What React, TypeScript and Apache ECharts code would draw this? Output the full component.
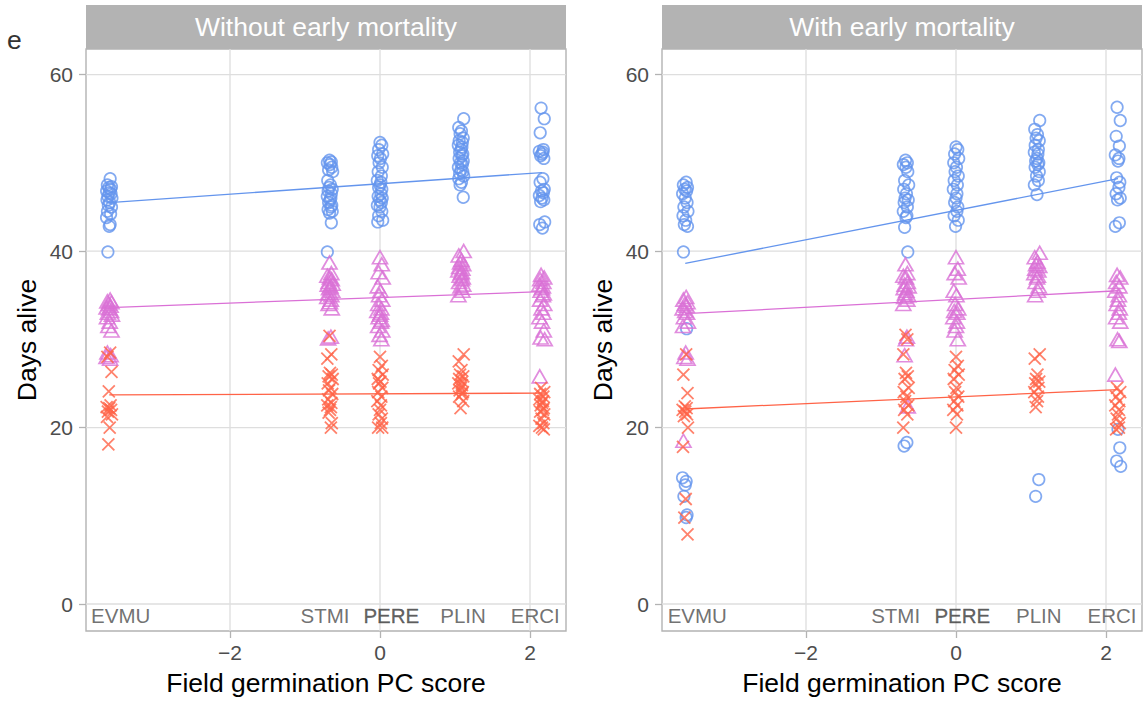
import React, { useEffect, useRef } from 'react';
import * as echarts from 'echarts';

const FONT = '"Liberation Sans", Arial, Helvetica, sans-serif';

// Species and their field germination PC scores
const species = ['EVMU', 'STMI', 'PERE', 'PLIN', 'ERCI'];
const speciesPC = [-3.61, -0.667, 0, 1.08, 2.16];

// small horizontal jitter offsets (PC score units)
const jitter = [0.012, -0.025, 0.03, -0.006, 0.018, -0.035, 0.0, 0.024, -0.018, 0.036, -0.03, 0.006, -0.012, 0.03, -0.024, 0.018, -0.036, 0.012, 0.0, -0.018, 0.024];

// Panel titles
const panels = ['Without early mortality', 'With early mortality'];

// Axis ticks
const xTicks = [-2, 0, 2];
const yTicks = [0, 20, 40, 60];
const X_MIN = -3.92;
const X_MAX = 2.48;
const Y_MIN = -3.06;
const Y_MAX = 62.9;

// ---- Without early mortality (left) ----
const blueLeft = [
  [48.2, 47.5, 47.3, 47.2, 47.0, 46.8, 46.6, 46.5, 46.2, 46.0, 45.8, 45.5, 45.2, 45.0, 44.5, 44.2, 43.8, 43.0, 42.8, 39.9],
  [50.3, 50.1, 50.0, 49.8, 49.5, 49.2, 49.0, 48.0, 47.5, 47.2, 47.0, 46.8, 46.5, 46.2, 46.0, 45.8, 45.5, 45.2, 45.0, 44.7, 44.5, 44.3, 43.2, 39.9],
  [52.3, 52.0, 51.5, 51.0, 50.8, 50.5, 50.0, 49.5, 49.0, 48.5, 48.0, 47.8, 47.5, 47.2, 47.0, 46.5, 46.2, 46.0, 45.8, 45.5, 45.2, 45.0, 44.5, 44.0, 43.5, 43.3],
  [55.0, 54.0, 53.6, 53.3, 52.8, 52.5, 52.3, 52.0, 51.8, 51.5, 51.2, 51.0, 50.8, 50.5, 50.2, 50.0, 49.8, 49.5, 49.2, 49.0, 48.8, 48.5, 48.2, 47.8, 47.5, 46.1],
  [56.2, 55.0, 53.4, 51.5, 51.3, 51.2, 51.0, 50.8, 50.5, 48.2, 47.8, 47.0, 46.8, 46.6, 46.3, 46.0, 45.8, 45.6, 43.3, 43.0, 42.6],
];
const pinkLeft = [
  [34.5, 34.3, 34.2, 34.0, 33.8, 33.6, 33.5, 33.2, 33.0, 32.8, 32.5, 32.0, 31.5, 31.0, 28.5, 28.2, 28.0, 27.8],
  [38.7, 37.5, 37.2, 37.0, 36.8, 36.5, 36.3, 36.2, 36.0, 35.8, 35.5, 35.2, 35.0, 34.8, 34.5, 34.2, 34.0, 33.5, 30.3, 30.1],
  [39.3, 38.5, 37.6, 37.0, 36.0, 35.5, 35.0, 34.5, 34.0, 33.5, 33.2, 33.0, 32.8, 32.5, 32.2, 32.0, 31.5, 31.0, 30.5, 30.0],
  [40.0, 39.5, 39.0, 38.7, 38.5, 38.2, 38.0, 37.8, 37.6, 37.5, 37.2, 37.0, 36.8, 36.5, 36.2, 36.0, 35.5, 35.0],
  [37.3, 37.0, 36.8, 36.5, 36.2, 36.0, 35.8, 35.5, 35.2, 35.0, 34.5, 34.0, 33.5, 33.0, 32.5, 32.0, 31.0, 30.2, 30.0, 25.8],
];
const redLeft = [
  [28.5, 28.0, 26.3, 24.1, 22.5, 22.3, 22.2, 22.0, 21.8, 21.5, 21.2, 20.0, 18.1],
  [30.4, 28.3, 27.8, 26.2, 26.0, 25.8, 25.5, 25.0, 24.5, 24.2, 23.8, 23.2, 22.8, 22.5, 22.3, 22.0, 21.7, 20.5, 20.0],
  [28.0, 27.0, 26.5, 26.0, 25.5, 25.2, 25.0, 24.5, 24.0, 23.5, 23.0, 22.5, 22.0, 21.5, 21.0, 20.5, 20.0, 20.0],
  [28.3, 27.5, 26.5, 26.0, 25.8, 25.5, 25.2, 25.0, 24.8, 24.5, 24.2, 24.0, 23.8, 23.5, 23.0, 22.2],
  [24.5, 24.0, 23.8, 23.5, 23.2, 23.0, 22.8, 22.5, 22.2, 22.0, 21.8, 21.5, 21.0, 20.5, 20.2, 20.0, 19.8],
];
// fitted lines: [x, y] at the two ends
const blueLineLeft = [[-3.61, 45.5], [2.16, 48.9]];
const pinkLineLeft = [[-3.61, 33.6], [2.16, 35.4]];
const redLineLeft = [[-3.61, 23.7], [2.16, 23.9]];
const labelXLeft = [-3.457, -0.733, 0.151, 1.107, 2.07];

// ---- With early mortality (right) ----
const blueRight = [
  [47.8, 47.5, 47.2, 47.0, 46.8, 46.5, 46.0, 45.5, 45.0, 44.5, 44.0, 43.5, 43.0, 42.8, 39.9, 31.2, 14.3, 13.9, 13.5, 12.2, 10.1, 9.8],
  [50.3, 50.0, 49.8, 49.5, 49.0, 48.0, 47.5, 47.0, 46.5, 46.0, 45.8, 45.5, 45.0, 44.5, 44.0, 43.8, 42.7, 39.9, 18.3, 17.9],
  [51.8, 51.5, 51.0, 50.5, 50.0, 49.5, 49.0, 48.5, 48.0, 47.5, 47.0, 46.5, 46.0, 45.5, 45.0, 44.5, 44.0, 43.5, 42.8],
  [54.8, 53.8, 53.2, 52.8, 52.5, 52.0, 51.5, 51.2, 51.0, 50.5, 50.2, 50.0, 49.8, 49.5, 49.0, 48.5, 48.0, 47.5, 46.4, 14.1, 12.2],
  [56.3, 54.8, 53.0, 51.9, 50.9, 50.5, 50.2, 48.3, 47.8, 47.2, 46.5, 46.0, 45.8, 43.2, 42.8, 19.8, 17.7, 16.2, 15.6],
];
const pinkRight = [
  [34.8, 34.5, 34.2, 34.0, 33.8, 33.5, 33.2, 33.0, 32.5, 32.0, 31.5, 28.5, 28.0, 27.8, 18.5],
  [38.5, 37.5, 37.2, 37.0, 36.5, 36.2, 36.0, 35.8, 35.5, 35.2, 35.0, 34.8, 34.5, 34.0, 30.3, 30.0, 28.2, 22.4],
  [39.3, 38.0, 37.5, 37.0, 35.5, 35.0, 34.0, 33.5, 33.2, 33.0, 32.5, 32.0, 31.5, 31.0, 30.0],
  [39.8, 39.3, 38.8, 38.5, 38.3, 38.0, 37.8, 37.5, 37.2, 37.0, 36.5, 36.0, 35.5, 35.0],
  [37.3, 37.0, 36.5, 36.0, 35.5, 35.0, 34.5, 34.0, 33.5, 33.0, 32.5, 32.0, 30.0, 29.8, 26.0],
];
const redRight = [
  [28.3, 26.0, 23.9, 22.4, 22.2, 22.0, 21.8, 21.5, 21.3, 20.0, 17.8, 11.9, 9.8, 7.9],
  [30.5, 30.0, 28.3, 26.2, 25.8, 25.5, 24.5, 24.0, 23.5, 23.0, 22.5, 22.0, 21.5, 20.0],
  [28.0, 27.0, 26.5, 26.0, 25.5, 24.5, 24.0, 23.5, 23.0, 22.5, 22.0, 21.5, 20.0],
  [28.3, 27.8, 26.0, 25.5, 25.2, 25.0, 24.5, 24.0, 23.5, 23.0, 22.3],
  [24.5, 24.0, 23.5, 23.0, 22.5, 22.0, 21.5, 21.0, 20.5, 20.0, 19.8],
];
const blueLineRight = [[-3.61, 38.6], [2.16, 48.2]];
const pinkLineRight = [[-3.61, 32.9], [2.16, 35.5]];
const redLineRight = [[-3.61, 22.1], [2.16, 24.3]];
const labelXRight = [-3.45, -0.805, 0.084, 1.104, 2.08];
const labelY = -1.28;

const BLUE = '#6495ED';
const PINK = '#DA70D6';
const RED = '#FF6347';
const CROSS = 'path://M0,0L10,10M10,0L0,10';

const GRID_LEFTS = [86, 662];
const GRID_TOP = 49;
const GRID_W = 480;
const GRID_H = 582;

function points(groups: number[][]) {
  const out: number[][] = [];
  groups.forEach((ys, si) => {
    ys.forEach((y, i) => {
      out.push([speciesPC[si] + jitter[(i + si * 3) % jitter.length], y]);
    });
  });
  return out;
}

function fmt(v: number) {
  return v < 0 ? '\u2212' + Math.abs(v) : String(v);
}

function buildOption() {
  const panelData = [
    { blue: blueLeft, pink: pinkLeft, red: redLeft, bl: blueLineLeft, pl: pinkLineLeft, rl: redLineLeft, lx: labelXLeft },
    { blue: blueRight, pink: pinkRight, red: redRight, bl: blueLineRight, pl: pinkLineRight, rl: redLineRight, lx: labelXRight },
  ];

  const grids: any[] = [];
  const xAxes: any[] = [];
  const yAxes: any[] = [];
  const series: any[] = [];
  const graphics: any[] = [];

  panelData.forEach((pd, p) => {
    grids.push({
      left: GRID_LEFTS[p], top: GRID_TOP, width: GRID_W, height: GRID_H,
      show: true, borderColor: '#b3b3b3', borderWidth: 1.4, backgroundColor: 'rgba(0,0,0,0)',
    });
    xAxes.push({
      gridIndex: p, type: 'value', min: X_MIN, max: X_MAX,
      splitLine: { show: false },
      axisLine: { show: false, onZero: false },
      axisTick: { show: true, customValues: xTicks, length: 7, lineStyle: { color: '#b3b3b3', width: 1.3 } },
      axisLabel: { customValues: xTicks, formatter: fmt, fontSize: 21, color: '#4d4d4d', margin: 11, fontFamily: FONT },
      name: 'Field germination PC score', nameLocation: 'middle', nameGap: 38,
      nameTextStyle: { fontSize: 26.5, color: '#000', fontFamily: FONT },
    });
    yAxes.push({
      gridIndex: p, type: 'value', min: Y_MIN, max: Y_MAX,
      splitLine: { show: false },
      axisLine: { show: false, onZero: false },
      axisTick: { show: true, customValues: yTicks, length: 7, lineStyle: { color: '#b3b3b3', width: 1.3 } },
      axisLabel: { customValues: yTicks, fontSize: 21, color: '#4d4d4d', margin: 13, fontFamily: FONT },
      name: 'Days alive', nameLocation: 'middle', nameGap: 46,
      nameTextStyle: { fontSize: 26.5, color: '#000', fontFamily: FONT },
    });

    // gridlines
    xTicks.forEach((v) => {
      series.push({
        type: 'line', xAxisIndex: p, yAxisIndex: p, data: [[v, Y_MIN], [v, Y_MAX]],
        symbol: 'none', silent: true, z: 1, lineStyle: { color: '#dedede', width: 1.3 },
      });
    });
    yTicks.forEach((v) => {
      series.push({
        type: 'line', xAxisIndex: p, yAxisIndex: p, data: [[X_MIN, v], [X_MAX, v]],
        symbol: 'none', silent: true, z: 1, lineStyle: { color: '#dedede', width: 1.3 },
      });
    });

    const common = { type: 'scatter', xAxisIndex: p, yAxisIndex: p, silent: true, z: 3 };
    series.push({
      ...common, data: points(pd.blue), symbol: 'circle', symbolSize: 11.5,
      itemStyle: { color: 'rgba(0,0,0,0)', borderColor: BLUE, borderWidth: 1.7 },
    });
    series.push({
      ...common, data: points(pd.pink), symbol: 'triangle', symbolSize: [15, 13],
      itemStyle: { color: 'rgba(0,0,0,0)', borderColor: PINK, borderWidth: 1.7 },
    });
    series.push({
      ...common, data: points(pd.red), symbol: CROSS, symbolSize: 12,
      itemStyle: { color: 'rgba(0,0,0,0)', borderColor: RED, borderWidth: 1.8 },
    });

    [[pd.bl, BLUE], [pd.pl, PINK], [pd.rl, RED]].forEach(([d, c]: any) => {
      series.push({
        type: 'line', xAxisIndex: p, yAxisIndex: p, data: d, symbol: 'none', silent: true, z: 4,
        lineStyle: { color: c, width: 1.3 },
      });
    });

    series.push({
      type: 'scatter', xAxisIndex: p, yAxisIndex: p, silent: true, z: 5, symbolSize: 0,
      data: species.map((s, i) => ({
        value: [pd.lx[i], labelY], name: s,
        label: s === 'PERE' ? { color: '#3a3a3a', textBorderColor: '#3a3a3a', textBorderWidth: 0.3 } : undefined,
      })),
      label: { show: true, position: 'inside', formatter: '{b}', fontSize: 20.5, color: '#4d4d4d', fontFamily: FONT },
    });

    graphics.push({
      type: 'rect', shape: { x: GRID_LEFTS[p], y: 5, width: GRID_W, height: 44 },
      style: { fill: '#b3b3b3' }, silent: true,
    });
    graphics.push({
      type: 'text', x: GRID_LEFTS[p] + GRID_W / 2, y: 27,
      style: { text: panels[p], fill: '#fff', fontSize: 26.5, fontFamily: FONT, textAlign: 'center', textVerticalAlign: 'middle' },
      silent: true,
    });
  });

  graphics.push({
    type: 'text', x: 7, y: 40,
    style: { text: 'e', fill: '#333', fontSize: 26.5, fontFamily: FONT, textAlign: 'left', textVerticalAlign: 'middle' },
    silent: true,
  });

  return {
    animation: false,
    backgroundColor: '#fff',
    grid: grids,
    xAxis: xAxes,
    yAxis: yAxes,
    series,
    graphic: graphics,
  };
}

export default function App() {
  const ref = useRef<HTMLDivElement>(null);
  useEffect(() => {
    document.body.style.margin = '0';
    const chart = echarts.init(ref.current as HTMLDivElement, null, { renderer: 'svg' });
    chart.setOption(buildOption() as any);
    return () => chart.dispose();
  }, []);
  return <div ref={ref} style={{ width: 1143, height: 704 }} />;
}
